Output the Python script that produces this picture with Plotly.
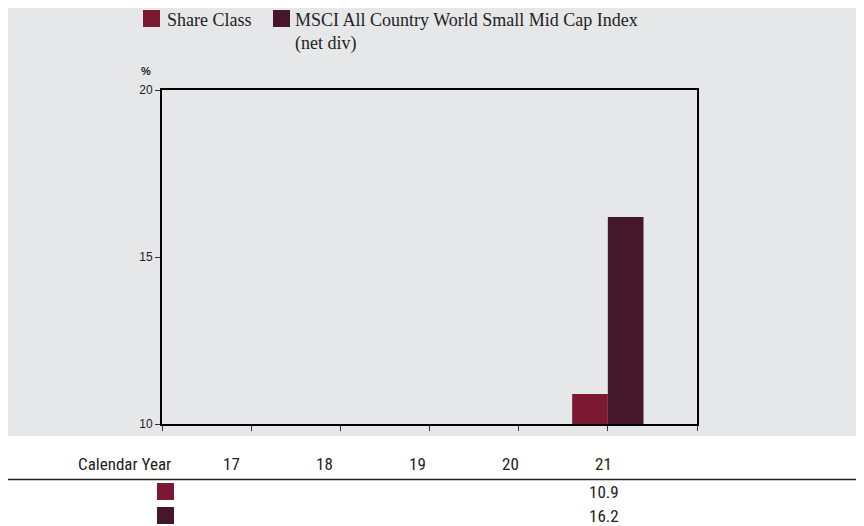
import plotly.graph_objects as go

years = [17, 18, 19, 20, 21]
share_class = [None, None, None, None, 10.9]
index_vals = [None, None, None, None, 16.2]
series_names = ["Share Class", "MSCI All Country World Small Mid Cap Index<br>(net div)"]
colors = ["#7d1832", "#45172a"]
y_ticks = [10, 15, 20]

OFF = 8  # page body margin
W, H = 864 - OFF, 526 - OFF
L, R, T, B = 162, 697, 90, 424  # plot area in page pixels

def px(x):
    return (x - L) / (R - L)

def py(y):
    return (B - y) / (B - T)

fig = go.Figure()
fig.add_trace(go.Bar(x=years, y=share_class, name=series_names[0],
                     marker=dict(color=colors[0], line=dict(width=0))))
fig.add_trace(go.Bar(x=years, y=index_vals, name=series_names[1],
                     marker=dict(color=colors[1], line=dict(width=0))))

gray = "#e6e7e9"
shapes = [
    dict(type="rect", xref="paper", yref="paper", x0=px(3), x1=px(862), y0=py(436), y1=py(6),
         fillcolor=gray, line=dict(width=0), layer="below"),
    dict(type="line", xref="paper", yref="paper", x0=px(3), x1=px(864), y0=py(479.5), y1=py(479.5),
         line=dict(color="#222222", width=1.6)),
]
annotations = []

# legend (custom)
leg_sq = [(143, 160), (273, 290)]
leg_tx = [165, 293]
for i in range(2):
    shapes.append(dict(type="rect", xref="paper", yref="paper",
                       x0=px(leg_sq[i][0]), x1=px(leg_sq[i][1]), y0=py(27), y1=py(10),
                       fillcolor=colors[i], line=dict(width=0)))
    annotations.append(dict(xref="paper", yref="paper", x=px(leg_tx[i]), y=py(8),
                            xanchor="left", yanchor="top", align="left", showarrow=False,
                            text=series_names[i],
                            font=dict(family="Liberation Serif", size=18, color="#222222")))

# % label
annotations.append(dict(xref="paper", yref="paper", x=px(146), y=py(71), xanchor="center",
                        yanchor="middle", showarrow=False, text="<b>%</b>",
                        font=dict(family="Liberation Sans", size=11, color="#222222")))

# table
tfont = dict(family="Liberation Sans Narrow, Roboto Condensed, Roboto", size=17, color="#222222")
annotations.append(dict(xref="paper", yref="paper", x=px(173), y=py(464), xanchor="right",
                        yanchor="middle", showarrow=False, text="Calendar Year", font=tfont))
col_x = [231.5 + 93 * k for k in range(len(years))]
row_y = [492, 516]
for k, yr in enumerate(years):
    annotations.append(dict(xref="paper", yref="paper", x=px(col_x[k]), y=py(464),
                            xanchor="center", yanchor="middle", showarrow=False,
                            text=str(yr), font=tfont))
    for r, vals in enumerate([share_class, index_vals]):
        if vals[k] is not None:
            annotations.append(dict(xref="paper", yref="paper", x=px(col_x[k]), y=py(row_y[r]),
                                    xanchor="center", yanchor="middle", showarrow=False,
                                    text=f"{vals[k]:.1f}", font=tfont))
sq_y = [(483, 500), (507, 524)]
for r in range(2):
    shapes.append(dict(type="rect", xref="paper", yref="paper", x0=px(157), x1=px(174),
                       y0=py(sq_y[r][1]), y1=py(sq_y[r][0]),
                       fillcolor=colors[r], line=dict(width=0)))

fig.update_layout(
    width=W, height=H,
    margin=dict(l=L - OFF, r=W - (R - OFF), t=T - OFF, b=H - (B - OFF)),
    paper_bgcolor="white", plot_bgcolor=gray,
    barmode="group", bargap=0.2, bargroupgap=0,
    showlegend=False,
    shapes=shapes, annotations=annotations,
    xaxis=dict(range=[16, 22], tickvals=list(range(16, 23)), showticklabels=False,
               ticks="outside", ticklen=5, tickcolor="#333333", showgrid=False, zeroline=False,
               showline=True, linecolor="black", linewidth=2, mirror=True),
    yaxis=dict(range=[10, 20], tickvals=y_ticks, ticks="outside", ticklen=5,
               tickcolor="#333333", showgrid=False, zeroline=False,
               showline=True, linecolor="black", linewidth=2, mirror=True,
               tickfont=dict(family="Liberation Sans", size=12, color="#222222")),
)
fig.write_html("out.html")
